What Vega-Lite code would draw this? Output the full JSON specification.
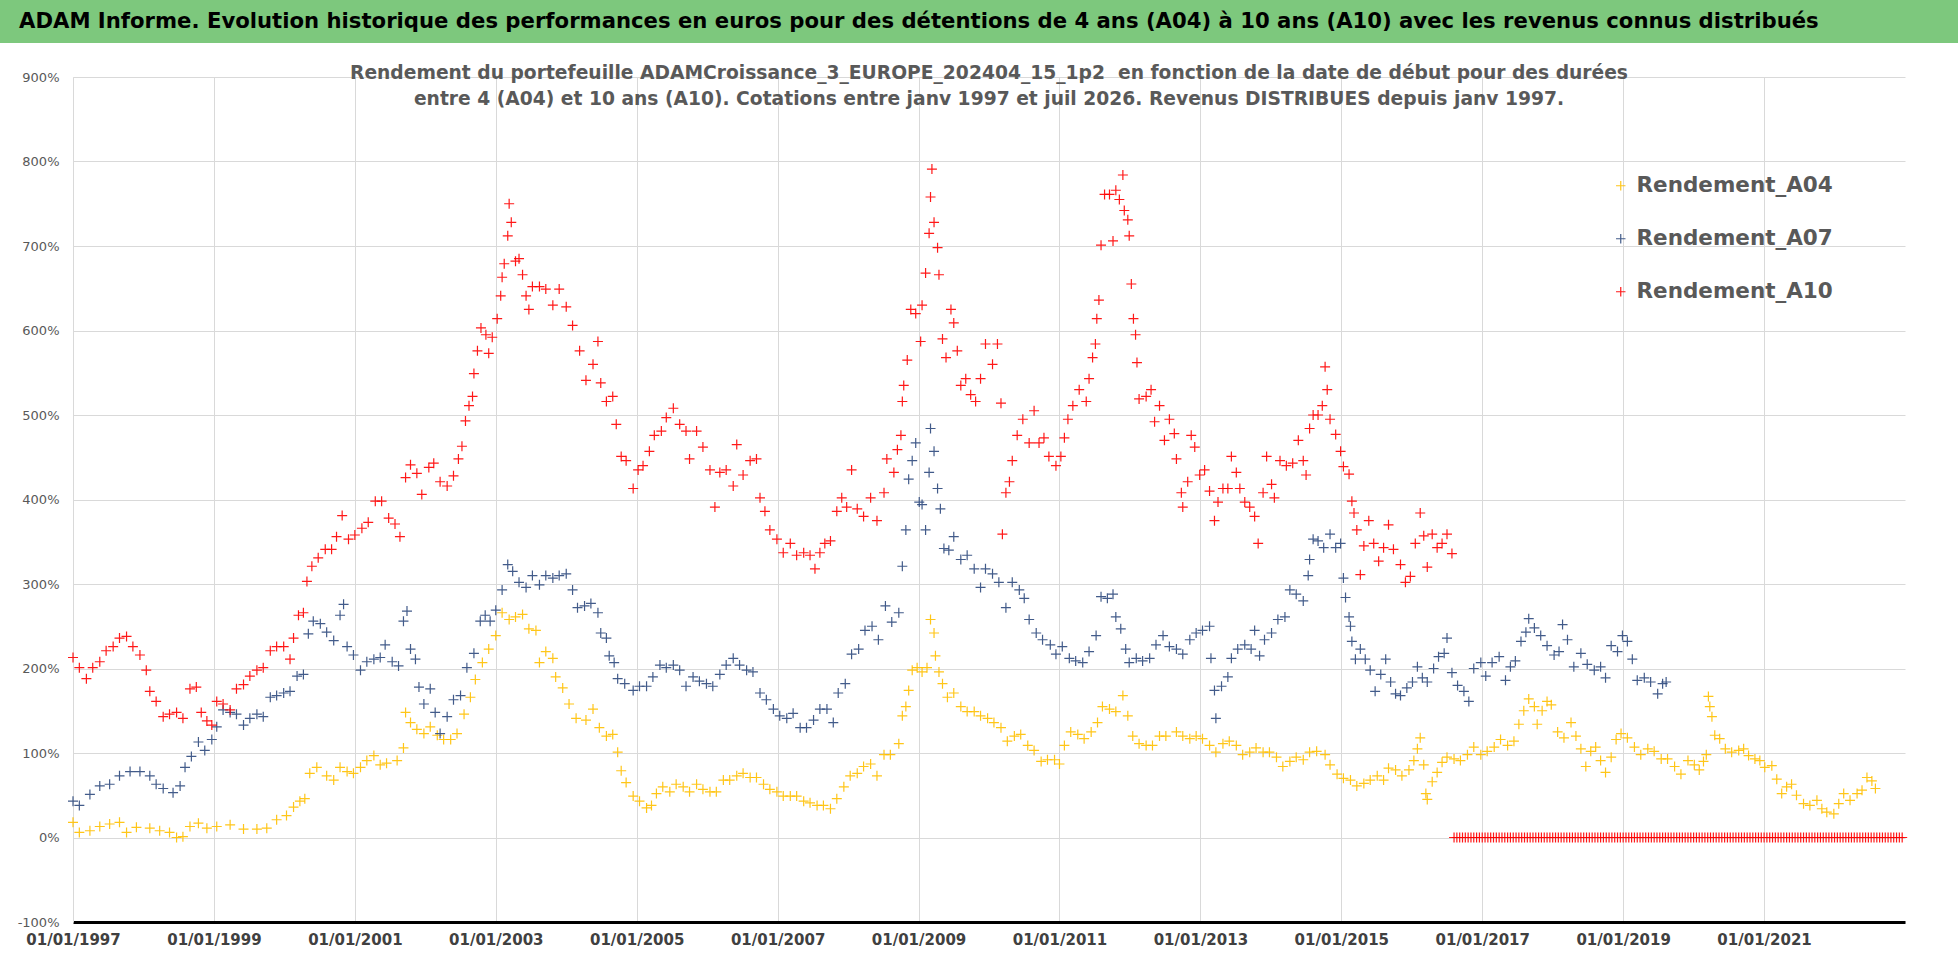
{
  "$schema": "https://vega.github.io/schema/vega-lite/v6.json",
  "background": "white",
  "padding": 0,
  "bounds": "flush",
  "spacing": 34,
  "resolve": {"scale": {"color": "independent"}, "legend": {"color": "independent"}},
  "config": {
    "font": "DejaVu Sans",
    "view": {"stroke": null}
  },
  "datasets": {
    "a04": [
      {"t":1997.00,"v":18},{"t":1997.09,"v":6},{"t":1997.24,"v":8},{"t":1997.38,"v":13},{"t":1997.52,"v":16},{"t":1997.66,"v":18},{"t":1997.76,"v":6},{"t":1997.90,"v":12},
      {"t":1998.09,"v":11},{"t":1998.23,"v":8},{"t":1998.37,"v":6},{"t":1998.47,"v":0},{"t":1998.56,"v":1},{"t":1998.66,"v":13},{"t":1998.78,"v":17},{"t":1998.90,"v":11},
      {"t":1999.04,"v":13},{"t":1999.23,"v":15},{"t":1999.42,"v":10},{"t":1999.61,"v":10},{"t":1999.75,"v":11},{"t":1999.89,"v":21},
      {"t":2000.03,"v":26},{"t":2000.13,"v":36},{"t":2000.22,"v":43},{"t":2000.29,"v":46},{"t":2000.36,"v":76},{"t":2000.46,"v":83},{"t":2000.60,"v":73},{"t":2000.70,"v":68},{"t":2000.79,"v":83},{"t":2000.89,"v":78},{"t":2000.98,"v":76},
      {"t":2001.08,"v":83},{"t":2001.17,"v":91},{"t":2001.27,"v":97},{"t":2001.36,"v":86},{"t":2001.45,"v":88},{"t":2001.60,"v":91},{"t":2001.69,"v":106},{"t":2001.72,"v":148},{"t":2001.79,"v":136},{"t":2001.88,"v":128},{"t":2001.98,"v":123},
      {"t":2002.07,"v":131},{"t":2002.17,"v":121},{"t":2002.26,"v":116},{"t":2002.36,"v":116},{"t":2002.45,"v":123},{"t":2002.55,"v":146},{"t":2002.64,"v":166},{"t":2002.71,"v":187},{"t":2002.81,"v":207},{"t":2002.90,"v":223},
      {"t":2003.00,"v":239},{"t":2003.09,"v":266},{"t":2003.19,"v":258},{"t":2003.28,"v":261},{"t":2003.38,"v":264},{"t":2003.47,"v":247},{"t":2003.57,"v":245},{"t":2003.62,"v":207},{"t":2003.71,"v":220},{"t":2003.81,"v":212},{"t":2003.85,"v":190},{"t":2003.95,"v":177},
      {"t":2004.04,"v":158},{"t":2004.14,"v":141},{"t":2004.28,"v":139},{"t":2004.38,"v":152},{"t":2004.47,"v":130},{"t":2004.57,"v":120},{"t":2004.66,"v":122},{"t":2004.73,"v":101},{"t":2004.78,"v":79},{"t":2004.85,"v":65},{"t":2004.95,"v":49},
      {"t":2005.04,"v":43},{"t":2005.14,"v":35},{"t":2005.21,"v":38},{"t":2005.28,"v":52},{"t":2005.37,"v":60},{"t":2005.47,"v":54},{"t":2005.56,"v":63},{"t":2005.66,"v":60},{"t":2005.75,"v":54},{"t":2005.85,"v":63},{"t":2005.94,"v":57},
      {"t":2006.04,"v":54},{"t":2006.13,"v":54},{"t":2006.23,"v":68},{"t":2006.32,"v":68},{"t":2006.42,"v":73},{"t":2006.51,"v":76},{"t":2006.61,"v":71},{"t":2006.70,"v":71},{"t":2006.80,"v":63},{"t":2006.89,"v":57},{"t":2006.99,"v":54},
      {"t":2007.08,"v":49},{"t":2007.18,"v":49},{"t":2007.27,"v":49},{"t":2007.37,"v":43},{"t":2007.46,"v":41},{"t":2007.56,"v":38},{"t":2007.65,"v":38},{"t":2007.75,"v":34},{"t":2007.84,"v":46},{"t":2007.94,"v":60},
      {"t":2008.03,"v":73},{"t":2008.13,"v":76},{"t":2008.22,"v":84},{"t":2008.32,"v":87},{"t":2008.41,"v":73},{"t":2008.51,"v":98},{"t":2008.60,"v":98},{"t":2008.72,"v":111},{"t":2008.77,"v":144},{"t":2008.82,"v":155},{"t":2008.86,"v":174},{"t":2008.91,"v":198},{"t":2008.98,"v":201},
      {"t":2009.05,"v":196},{"t":2009.12,"v":201},{"t":2009.17,"v":258},{"t":2009.22,"v":242},{"t":2009.24,"v":215},{"t":2009.29,"v":196},{"t":2009.34,"v":182},{"t":2009.41,"v":166},{"t":2009.50,"v":171},{"t":2009.60,"v":155},{"t":2009.69,"v":149},{"t":2009.79,"v":149},{"t":2009.88,"v":144},{"t":2009.98,"v":141},
      {"t":2010.07,"v":136},{"t":2010.17,"v":130},{"t":2010.26,"v":114},{"t":2010.36,"v":120},{"t":2010.45,"v":122},{"t":2010.55,"v":109},{"t":2010.64,"v":103},{"t":2010.74,"v":90},{"t":2010.83,"v":92},{"t":2010.93,"v":92},
      {"t":2011.00,"v":87},{"t":2011.07,"v":109},{"t":2011.16,"v":125},{"t":2011.26,"v":122},{"t":2011.35,"v":117},{"t":2011.45,"v":125},{"t":2011.54,"v":136},{"t":2011.61,"v":155},{"t":2011.71,"v":152},{"t":2011.80,"v":149},{"t":2011.90,"v":168},{"t":2011.97,"v":144},
      {"t":2012.04,"v":120},{"t":2012.13,"v":111},{"t":2012.23,"v":109},{"t":2012.32,"v":109},{"t":2012.42,"v":120},{"t":2012.51,"v":120},{"t":2012.66,"v":125},{"t":2012.75,"v":120},{"t":2012.85,"v":117},{"t":2012.94,"v":120},
      {"t":2013.03,"v":117},{"t":2013.13,"v":109},{"t":2013.22,"v":101},{"t":2013.32,"v":111},{"t":2013.41,"v":114},{"t":2013.51,"v":109},{"t":2013.60,"v":98},{"t":2013.70,"v":101},{"t":2013.79,"v":106},{"t":2013.89,"v":101},{"t":2013.98,"v":101},
      {"t":2014.08,"v":95},{"t":2014.17,"v":84},{"t":2014.27,"v":90},{"t":2014.36,"v":95},{"t":2014.46,"v":92},{"t":2014.55,"v":101},{"t":2014.65,"v":102},{"t":2014.77,"v":98},{"t":2014.84,"v":86},{"t":2014.94,"v":75},
      {"t":2015.03,"v":70},{"t":2015.13,"v":68},{"t":2015.22,"v":61},{"t":2015.32,"v":64},{"t":2015.41,"v":68},{"t":2015.51,"v":73},{"t":2015.60,"v":68},{"t":2015.67,"v":82},{"t":2015.77,"v":80},{"t":2015.86,"v":73},{"t":2015.96,"v":80},
      {"t":2016.03,"v":91},{"t":2016.08,"v":105},{"t":2016.12,"v":118},{"t":2016.17,"v":86},{"t":2016.20,"v":52},{"t":2016.22,"v":45},{"t":2016.29,"v":66},{"t":2016.36,"v":77},{"t":2016.43,"v":89},{"t":2016.50,"v":95},{"t":2016.60,"v":93},{"t":2016.69,"v":91},{"t":2016.79,"v":98},{"t":2016.88,"v":107},{"t":2016.98,"v":98},
      {"t":2017.07,"v":102},{"t":2017.17,"v":107},{"t":2017.26,"v":116},{"t":2017.36,"v":109},{"t":2017.45,"v":114},{"t":2017.52,"v":134},{"t":2017.59,"v":150},{"t":2017.66,"v":164},{"t":2017.74,"v":155},{"t":2017.78,"v":134},{"t":2017.85,"v":150},{"t":2017.92,"v":161},{"t":2017.98,"v":157},
      {"t":2018.07,"v":125},{"t":2018.16,"v":118},{"t":2018.26,"v":136},{"t":2018.33,"v":120},{"t":2018.40,"v":105},{"t":2018.47,"v":84},{"t":2018.54,"v":102},{"t":2018.61,"v":107},{"t":2018.68,"v":91},{"t":2018.75,"v":77},{"t":2018.83,"v":95},{"t":2018.90,"v":116},{"t":2018.97,"v":123},
      {"t":2019.06,"v":118},{"t":2019.16,"v":107},{"t":2019.25,"v":98},{"t":2019.35,"v":105},{"t":2019.44,"v":102},{"t":2019.54,"v":93},{"t":2019.63,"v":93},{"t":2019.73,"v":84},{"t":2019.82,"v":75},{"t":2019.92,"v":91},
      {"t":2020.01,"v":86},{"t":2020.08,"v":80},{"t":2020.14,"v":90},{"t":2020.18,"v":98},{"t":2020.21,"v":167},{"t":2020.23,"v":155},{"t":2020.26,"v":143},{"t":2020.30,"v":121},{"t":2020.37,"v":117},{"t":2020.45,"v":105},{"t":2020.54,"v":101},{"t":2020.64,"v":103},{"t":2020.71,"v":105},{"t":2020.78,"v":97},{"t":2020.87,"v":93},{"t":2020.94,"v":91},
      {"t":2021.01,"v":83},{"t":2021.11,"v":85},{"t":2021.18,"v":69},{"t":2021.25,"v":52},{"t":2021.32,"v":60},{"t":2021.39,"v":63},{"t":2021.46,"v":50},{"t":2021.56,"v":40},{"t":2021.65,"v":38},{"t":2021.75,"v":44},{"t":2021.82,"v":34},{"t":2021.89,"v":30},{"t":2021.99,"v":28},
      {"t":2022.06,"v":40},{"t":2022.13,"v":52},{"t":2022.22,"v":44},{"t":2022.32,"v":52},{"t":2022.39,"v":56},{"t":2022.46,"v":71},{"t":2022.53,"v":67},{"t":2022.58,"v":58}
    ],
    "a07": [
      {"t":1997.00,"v":43},{"t":1997.09,"v":38},{"t":1997.24,"v":51},{"t":1997.38,"v":61},{"t":1997.52,"v":63},{"t":1997.66,"v":73},{"t":1997.81,"v":78},{"t":1997.95,"v":78},
      {"t":1998.09,"v":73},{"t":1998.18,"v":63},{"t":1998.28,"v":58},{"t":1998.42,"v":53},{"t":1998.52,"v":61},{"t":1998.59,"v":83},{"t":1998.68,"v":96},{"t":1998.78,"v":113},{"t":1998.87,"v":103},{"t":1998.97,"v":116},
      {"t":1999.04,"v":131},{"t":1999.13,"v":151},{"t":1999.23,"v":148},{"t":1999.32,"v":146},{"t":1999.42,"v":133},{"t":1999.51,"v":141},{"t":1999.61,"v":146},{"t":1999.70,"v":143},{"t":1999.80,"v":166},{"t":1999.89,"v":168},{"t":1999.99,"v":171},
      {"t":2000.08,"v":173},{"t":2000.18,"v":191},{"t":2000.27,"v":193},{"t":2000.34,"v":241},{"t":2000.41,"v":256},{"t":2000.51,"v":253},{"t":2000.60,"v":243},{"t":2000.70,"v":233},{"t":2000.79,"v":263},{"t":2000.84,"v":276},{"t":2000.89,"v":226},{"t":2000.98,"v":216},
      {"t":2001.08,"v":198},{"t":2001.17,"v":208},{"t":2001.27,"v":211},{"t":2001.36,"v":213},{"t":2001.43,"v":228},{"t":2001.53,"v":208},{"t":2001.62,"v":203},{"t":2001.69,"v":256},{"t":2001.74,"v":268},{"t":2001.79,"v":223},{"t":2001.86,"v":211},{"t":2001.91,"v":178},{"t":2001.98,"v":158},
      {"t":2002.07,"v":176},{"t":2002.14,"v":148},{"t":2002.21,"v":123},{"t":2002.31,"v":143},{"t":2002.40,"v":163},{"t":2002.50,"v":168},{"t":2002.59,"v":201},{"t":2002.69,"v":218},{"t":2002.78,"v":256},{"t":2002.85,"v":263},{"t":2002.92,"v":256},
      {"t":2003.00,"v":269},{"t":2003.09,"v":293},{"t":2003.17,"v":323},{"t":2003.24,"v":315},{"t":2003.33,"v":302},{"t":2003.43,"v":296},{"t":2003.52,"v":310},{"t":2003.62,"v":299},{"t":2003.71,"v":310},{"t":2003.81,"v":307},{"t":2003.90,"v":310},
      {"t":2004.00,"v":312},{"t":2004.09,"v":293},{"t":2004.16,"v":272},{"t":2004.26,"v":274},{"t":2004.35,"v":277},{"t":2004.45,"v":266},{"t":2004.49,"v":242},{"t":2004.57,"v":236},{"t":2004.61,"v":215},{"t":2004.68,"v":207},{"t":2004.73,"v":188},{"t":2004.83,"v":182},{"t":2004.95,"v":174},
      {"t":2005.04,"v":179},{"t":2005.14,"v":179},{"t":2005.23,"v":190},{"t":2005.33,"v":204},{"t":2005.42,"v":201},{"t":2005.52,"v":204},{"t":2005.61,"v":198},{"t":2005.70,"v":179},{"t":2005.80,"v":190},{"t":2005.89,"v":185},{"t":2005.99,"v":182},
      {"t":2006.08,"v":179},{"t":2006.18,"v":193},{"t":2006.27,"v":204},{"t":2006.37,"v":212},{"t":2006.46,"v":204},{"t":2006.56,"v":198},{"t":2006.65,"v":196},{"t":2006.75,"v":171},{"t":2006.84,"v":163},{"t":2006.94,"v":152},
      {"t":2007.03,"v":144},{"t":2007.13,"v":141},{"t":2007.22,"v":147},{"t":2007.32,"v":130},{"t":2007.41,"v":130},{"t":2007.51,"v":139},{"t":2007.60,"v":152},{"t":2007.70,"v":152},{"t":2007.79,"v":136},{"t":2007.86,"v":171},{"t":2007.96,"v":182},
      {"t":2008.05,"v":217},{"t":2008.15,"v":223},{"t":2008.24,"v":245},{"t":2008.34,"v":250},{"t":2008.43,"v":234},{"t":2008.53,"v":274},{"t":2008.62,"v":255},{"t":2008.72,"v":266},{"t":2008.77,"v":321},{"t":2008.82,"v":364},{"t":2008.86,"v":424},{"t":2008.91,"v":446},{"t":2008.96,"v":467},
      {"t":2009.01,"v":397},{"t":2009.05,"v":394},{"t":2009.10,"v":364},{"t":2009.15,"v":432},{"t":2009.17,"v":484},{"t":2009.22,"v":457},{"t":2009.27,"v":413},{"t":2009.31,"v":389},{"t":2009.36,"v":342},{"t":2009.43,"v":340},{"t":2009.50,"v":356},{"t":2009.60,"v":329},{"t":2009.69,"v":334},{"t":2009.79,"v":318},{"t":2009.88,"v":296},{"t":2009.95,"v":318},
      {"t":2010.05,"v":312},{"t":2010.14,"v":302},{"t":2010.24,"v":272},{"t":2010.33,"v":302},{"t":2010.43,"v":293},{"t":2010.50,"v":283},{"t":2010.57,"v":258},{"t":2010.67,"v":242},{"t":2010.76,"v":234},{"t":2010.87,"v":228},{"t":2010.95,"v":217},
      {"t":2011.04,"v":226},{"t":2011.14,"v":212},{"t":2011.23,"v":209},{"t":2011.33,"v":207},{"t":2011.42,"v":220},{"t":2011.52,"v":239},{"t":2011.59,"v":285},{"t":2011.68,"v":283},{"t":2011.76,"v":288},{"t":2011.80,"v":261},{"t":2011.87,"v":247},{"t":2011.94,"v":223},{"t":2011.99,"v":207},
      {"t":2012.09,"v":212},{"t":2012.18,"v":209},{"t":2012.28,"v":212},{"t":2012.37,"v":228},{"t":2012.47,"v":239},{"t":2012.56,"v":226},{"t":2012.66,"v":223},{"t":2012.75,"v":217},{"t":2012.85,"v":234},{"t":2012.94,"v":242},
      {"t":2013.03,"v":245},{"t":2013.13,"v":250},{"t":2013.15,"v":212},{"t":2013.20,"v":174},{"t":2013.22,"v":141},{"t":2013.30,"v":179},{"t":2013.39,"v":190},{"t":2013.44,"v":212},{"t":2013.53,"v":223},{"t":2013.63,"v":228},{"t":2013.72,"v":223},{"t":2013.77,"v":245},{"t":2013.84,"v":215},{"t":2013.91,"v":234},
      {"t":2014.01,"v":242},{"t":2014.10,"v":258},{"t":2014.20,"v":261},{"t":2014.27,"v":293},{"t":2014.36,"v":288},{"t":2014.46,"v":280},{"t":2014.53,"v":310},{"t":2014.55,"v":329},{"t":2014.60,"v":353},{"t":2014.67,"v":351},{"t":2014.75,"v":343},{"t":2014.84,"v":359},{"t":2014.92,"v":343},{"t":2014.99,"v":348},
      {"t":2015.03,"v":307},{"t":2015.06,"v":284},{"t":2015.11,"v":261},{"t":2015.13,"v":250},{"t":2015.15,"v":232},{"t":2015.20,"v":211},{"t":2015.27,"v":223},{"t":2015.34,"v":211},{"t":2015.41,"v":198},{"t":2015.48,"v":173},{"t":2015.56,"v":193},{"t":2015.63,"v":211},{"t":2015.70,"v":184},{"t":2015.77,"v":170},{"t":2015.84,"v":168},{"t":2015.93,"v":177},
      {"t":2016.01,"v":184},{"t":2016.08,"v":202},{"t":2016.15,"v":189},{"t":2016.22,"v":184},{"t":2016.31,"v":200},{"t":2016.38,"v":214},{"t":2016.46,"v":218},{"t":2016.50,"v":236},{"t":2016.57,"v":195},{"t":2016.65,"v":180},{"t":2016.74,"v":173},{"t":2016.81,"v":161},{"t":2016.88,"v":200},{"t":2016.98,"v":207},
      {"t":2017.05,"v":191},{"t":2017.14,"v":207},{"t":2017.24,"v":214},{"t":2017.33,"v":186},{"t":2017.40,"v":202},{"t":2017.47,"v":209},{"t":2017.55,"v":232},{"t":2017.62,"v":243},{"t":2017.66,"v":259},{"t":2017.74,"v":248},{"t":2017.83,"v":239},{"t":2017.92,"v":227},
      {"t":2018.02,"v":216},{"t":2018.09,"v":220},{"t":2018.14,"v":252},{"t":2018.21,"v":234},{"t":2018.30,"v":202},{"t":2018.40,"v":218},{"t":2018.49,"v":205},{"t":2018.59,"v":198},{"t":2018.68,"v":202},{"t":2018.75,"v":189},{"t":2018.83,"v":227},{"t":2018.92,"v":220},{"t":2018.99,"v":239},
      {"t":2019.06,"v":232},{"t":2019.13,"v":211},{"t":2019.20,"v":186},{"t":2019.30,"v":189},{"t":2019.39,"v":184},{"t":2019.49,"v":170},{"t":2019.56,"v":182},{"t":2019.61,"v":184}
    ],
    "a10": [
      {"t":1997.00,"v":213},{"t":1997.09,"v":201},{"t":1997.19,"v":188},{"t":1997.28,"v":201},{"t":1997.38,"v":208},{"t":1997.47,"v":221},{"t":1997.57,"v":226},{"t":1997.66,"v":236},{"t":1997.76,"v":238},{"t":1997.85,"v":226},{"t":1997.95,"v":216},
      {"t":1998.04,"v":198},{"t":1998.09,"v":173},{"t":1998.18,"v":161},{"t":1998.28,"v":143},{"t":1998.37,"v":146},{"t":1998.47,"v":148},{"t":1998.56,"v":141},{"t":1998.66,"v":176},{"t":1998.75,"v":178},{"t":1998.82,"v":148},{"t":1998.90,"v":138},{"t":1998.97,"v":133},
      {"t":1999.04,"v":161},{"t":1999.13,"v":158},{"t":1999.23,"v":151},{"t":1999.32,"v":176},{"t":1999.42,"v":181},{"t":1999.51,"v":191},{"t":1999.61,"v":198},{"t":1999.70,"v":201},{"t":1999.80,"v":221},{"t":1999.89,"v":226},{"t":1999.99,"v":226},
      {"t":2000.08,"v":211},{"t":2000.13,"v":236},{"t":2000.20,"v":263},{"t":2000.27,"v":266},{"t":2000.32,"v":303},{"t":2000.39,"v":321},{"t":2000.48,"v":331},{"t":2000.58,"v":341},{"t":2000.67,"v":341},{"t":2000.74,"v":356},{"t":2000.82,"v":381},{"t":2000.91,"v":353},
      {"t":2001.00,"v":358},{"t":2001.10,"v":366},{"t":2001.19,"v":373},{"t":2001.29,"v":398},{"t":2001.38,"v":398},{"t":2001.48,"v":378},{"t":2001.57,"v":371},{"t":2001.64,"v":356},{"t":2001.72,"v":426},{"t":2001.79,"v":441},{"t":2001.88,"v":431},{"t":2001.95,"v":406},
      {"t":2002.05,"v":438},{"t":2002.12,"v":443},{"t":2002.21,"v":421},{"t":2002.31,"v":416},{"t":2002.40,"v":428},{"t":2002.47,"v":448},{"t":2002.52,"v":463},{"t":2002.57,"v":493},{"t":2002.62,"v":511},{"t":2002.67,"v":522},{"t":2002.69,"v":549},{"t":2002.74,"v":576},{"t":2002.79,"v":603},{"t":2002.86,"v":595},{"t":2002.90,"v":573},{"t":2002.95,"v":592},
      {"t":2003.02,"v":614},{"t":2003.07,"v":641},{"t":2003.09,"v":663},{"t":2003.12,"v":679},{"t":2003.17,"v":712},{"t":2003.19,"v":750},{"t":2003.22,"v":728},{"t":2003.28,"v":682},{"t":2003.33,"v":685},{"t":2003.38,"v":666},{"t":2003.43,"v":641},{"t":2003.47,"v":625},{"t":2003.52,"v":652},{"t":2003.62,"v":652},{"t":2003.71,"v":649},{"t":2003.81,"v":630},{"t":2003.90,"v":649},
      {"t":2004.00,"v":628},{"t":2004.09,"v":606},{"t":2004.19,"v":576},{"t":2004.28,"v":541},{"t":2004.38,"v":560},{"t":2004.45,"v":587},{"t":2004.49,"v":538},{"t":2004.57,"v":516},{"t":2004.66,"v":522},{"t":2004.71,"v":489},{"t":2004.78,"v":451},{"t":2004.85,"v":446},{"t":2004.95,"v":413},
      {"t":2005.02,"v":435},{"t":2005.09,"v":440},{"t":2005.18,"v":457},{"t":2005.25,"v":476},{"t":2005.35,"v":481},{"t":2005.42,"v":497},{"t":2005.52,"v":508},{"t":2005.61,"v":489},{"t":2005.70,"v":481},{"t":2005.75,"v":448},{"t":2005.85,"v":481},{"t":2005.94,"v":462},
      {"t":2006.04,"v":435},{"t":2006.11,"v":391},{"t":2006.18,"v":432},{"t":2006.27,"v":435},{"t":2006.37,"v":416},{"t":2006.42,"v":465},{"t":2006.51,"v":429},{"t":2006.61,"v":446},{"t":2006.70,"v":448},{"t":2006.75,"v":402},{"t":2006.82,"v":386},{"t":2006.89,"v":364},{"t":2006.99,"v":353},
      {"t":2007.08,"v":337},{"t":2007.18,"v":348},{"t":2007.27,"v":334},{"t":2007.37,"v":337},{"t":2007.46,"v":334},{"t":2007.53,"v":318},{"t":2007.60,"v":337},{"t":2007.67,"v":348},{"t":2007.75,"v":351},{"t":2007.84,"v":386},{"t":2007.91,"v":402},{"t":2007.98,"v":391},
      {"t":2008.05,"v":435},{"t":2008.13,"v":389},{"t":2008.22,"v":380},{"t":2008.32,"v":402},{"t":2008.41,"v":375},{"t":2008.51,"v":408},{"t":2008.55,"v":448},{"t":2008.65,"v":432},{"t":2008.70,"v":459},{"t":2008.75,"v":476},{"t":2008.77,"v":516},{"t":2008.79,"v":535},{"t":2008.84,"v":565},{"t":2008.89,"v":625},{"t":2008.96,"v":620},
      {"t":2009.03,"v":587},{"t":2009.05,"v":630},{"t":2009.10,"v":668},{"t":2009.15,"v":715},{"t":2009.17,"v":758},{"t":2009.19,"v":791},{"t":2009.22,"v":728},{"t":2009.27,"v":698},{"t":2009.29,"v":666},{"t":2009.34,"v":590},{"t":2009.39,"v":568},{"t":2009.46,"v":625},{"t":2009.50,"v":609},{"t":2009.55,"v":576},{"t":2009.60,"v":535},{"t":2009.67,"v":543},{"t":2009.74,"v":524},{"t":2009.81,"v":516},{"t":2009.88,"v":543},{"t":2009.95,"v":584},
      {"t":2010.05,"v":560},{"t":2010.12,"v":584},{"t":2010.17,"v":514},{"t":2010.19,"v":359},{"t":2010.24,"v":408},{"t":2010.29,"v":421},{"t":2010.33,"v":446},{"t":2010.40,"v":476},{"t":2010.48,"v":495},{"t":2010.57,"v":467},{"t":2010.64,"v":505},{"t":2010.71,"v":467},{"t":2010.78,"v":473},{"t":2010.85,"v":451},{"t":2010.95,"v":440},
      {"t":2011.02,"v":451},{"t":2011.07,"v":473},{"t":2011.12,"v":495},{"t":2011.19,"v":511},{"t":2011.28,"v":530},{"t":2011.38,"v":516},{"t":2011.42,"v":543},{"t":2011.47,"v":568},{"t":2011.51,"v":584},{"t":2011.53,"v":614},{"t":2011.56,"v":636},{"t":2011.59,"v":701},{"t":2011.64,"v":761},{"t":2011.71,"v":761},{"t":2011.76,"v":706},{"t":2011.80,"v":766},{"t":2011.85,"v":755},{"t":2011.90,"v":784},{"t":2011.92,"v":742},{"t":2011.97,"v":731},{"t":2011.99,"v":712},
      {"t":2012.02,"v":655},{"t":2012.05,"v":614},{"t":2012.08,"v":595},{"t":2012.10,"v":562},{"t":2012.13,"v":519},{"t":2012.23,"v":522},{"t":2012.30,"v":530},{"t":2012.35,"v":492},{"t":2012.42,"v":511},{"t":2012.49,"v":470},{"t":2012.56,"v":495},{"t":2012.63,"v":478},{"t":2012.66,"v":448},{"t":2012.73,"v":408},{"t":2012.75,"v":391},{"t":2012.82,"v":421},{"t":2012.87,"v":476},{"t":2012.92,"v":462},{"t":2012.99,"v":429},
      {"t":2013.06,"v":435},{"t":2013.13,"v":410},{"t":2013.20,"v":375},{"t":2013.25,"v":397},{"t":2013.32,"v":413},{"t":2013.39,"v":413},{"t":2013.44,"v":451},{"t":2013.51,"v":432},{"t":2013.56,"v":413},{"t":2013.63,"v":397},{"t":2013.70,"v":391},{"t":2013.77,"v":380},{"t":2013.82,"v":348},{"t":2013.89,"v":408},{"t":2013.94,"v":451},
      {"t":2014.01,"v":418},{"t":2014.05,"v":402},{"t":2014.13,"v":446},{"t":2014.22,"v":440},{"t":2014.31,"v":443},{"t":2014.39,"v":470},{"t":2014.46,"v":446},{"t":2014.50,"v":429},{"t":2014.55,"v":484},{"t":2014.60,"v":500},{"t":2014.67,"v":500},{"t":2014.73,"v":511},{"t":2014.77,"v":557},{"t":2014.80,"v":530},{"t":2014.84,"v":495},{"t":2014.92,"v":477},{"t":2014.99,"v":457},
      {"t":2015.03,"v":439},{"t":2015.11,"v":430},{"t":2015.15,"v":398},{"t":2015.18,"v":384},{"t":2015.22,"v":364},{"t":2015.27,"v":311},{"t":2015.32,"v":345},{"t":2015.39,"v":375},{"t":2015.46,"v":348},{"t":2015.53,"v":327},{"t":2015.60,"v":343},{"t":2015.67,"v":370},{"t":2015.74,"v":341},{"t":2015.84,"v":323},{"t":2015.91,"v":302},{"t":2015.98,"v":309},
      {"t":2016.05,"v":348},{"t":2016.12,"v":384},{"t":2016.17,"v":357},{"t":2016.22,"v":320},{"t":2016.29,"v":359},{"t":2016.36,"v":343},{"t":2016.43,"v":348},{"t":2016.50,"v":359},{"t":2016.57,"v":336},
      {"t":2016.60,"v":0},{"t":2016.64,"v":0},{"t":2016.68,"v":0},{"t":2016.72,"v":0},{"t":2016.76,"v":0},{"t":2016.80,"v":0},{"t":2016.84,"v":0},{"t":2016.88,"v":0},{"t":2016.92,"v":0},{"t":2016.96,"v":0},
      {"t":2017.00,"v":0},{"t":2017.04,"v":0},{"t":2017.08,"v":0},{"t":2017.12,"v":0},{"t":2017.16,"v":0},{"t":2017.20,"v":0},{"t":2017.24,"v":0},{"t":2017.28,"v":0},{"t":2017.32,"v":0},{"t":2017.36,"v":0},{"t":2017.40,"v":0},{"t":2017.44,"v":0},{"t":2017.48,"v":0},{"t":2017.52,"v":0},{"t":2017.56,"v":0},{"t":2017.60,"v":0},{"t":2017.64,"v":0},{"t":2017.68,"v":0},{"t":2017.72,"v":0},{"t":2017.76,"v":0},{"t":2017.80,"v":0},{"t":2017.84,"v":0},{"t":2017.88,"v":0},{"t":2017.92,"v":0},{"t":2017.96,"v":0},
      {"t":2018.00,"v":0},{"t":2018.04,"v":0},{"t":2018.08,"v":0},{"t":2018.12,"v":0},{"t":2018.16,"v":0},{"t":2018.20,"v":0},{"t":2018.24,"v":0},{"t":2018.28,"v":0},{"t":2018.32,"v":0},{"t":2018.36,"v":0},{"t":2018.40,"v":0},{"t":2018.44,"v":0},{"t":2018.48,"v":0},{"t":2018.52,"v":0},{"t":2018.56,"v":0},{"t":2018.60,"v":0},{"t":2018.64,"v":0},{"t":2018.68,"v":0},{"t":2018.72,"v":0},{"t":2018.76,"v":0},{"t":2018.80,"v":0},{"t":2018.84,"v":0},{"t":2018.88,"v":0},{"t":2018.92,"v":0},{"t":2018.96,"v":0},
      {"t":2019.00,"v":0},{"t":2019.04,"v":0},{"t":2019.08,"v":0},{"t":2019.12,"v":0},{"t":2019.16,"v":0},{"t":2019.20,"v":0},{"t":2019.24,"v":0},{"t":2019.28,"v":0},{"t":2019.32,"v":0},{"t":2019.36,"v":0},{"t":2019.40,"v":0},{"t":2019.44,"v":0},{"t":2019.48,"v":0},{"t":2019.52,"v":0},{"t":2019.56,"v":0},{"t":2019.60,"v":0},{"t":2019.64,"v":0},{"t":2019.68,"v":0},{"t":2019.72,"v":0},{"t":2019.76,"v":0},{"t":2019.80,"v":0},{"t":2019.84,"v":0},{"t":2019.88,"v":0},{"t":2019.92,"v":0},{"t":2019.96,"v":0},
      {"t":2020.00,"v":0},{"t":2020.04,"v":0},{"t":2020.08,"v":0},{"t":2020.12,"v":0},{"t":2020.16,"v":0},{"t":2020.20,"v":0},{"t":2020.24,"v":0},{"t":2020.28,"v":0},{"t":2020.32,"v":0},{"t":2020.36,"v":0},{"t":2020.40,"v":0},{"t":2020.44,"v":0},{"t":2020.48,"v":0},{"t":2020.52,"v":0},{"t":2020.56,"v":0},{"t":2020.60,"v":0},{"t":2020.64,"v":0},{"t":2020.68,"v":0},{"t":2020.72,"v":0},{"t":2020.76,"v":0},{"t":2020.80,"v":0},{"t":2020.84,"v":0},{"t":2020.88,"v":0},{"t":2020.92,"v":0},{"t":2020.96,"v":0},
      {"t":2021.00,"v":0},{"t":2021.04,"v":0},{"t":2021.08,"v":0},{"t":2021.12,"v":0},{"t":2021.16,"v":0},{"t":2021.20,"v":0},{"t":2021.24,"v":0},{"t":2021.28,"v":0},{"t":2021.32,"v":0},{"t":2021.36,"v":0},{"t":2021.40,"v":0},{"t":2021.44,"v":0},{"t":2021.48,"v":0},{"t":2021.52,"v":0},{"t":2021.56,"v":0},{"t":2021.60,"v":0},{"t":2021.64,"v":0},{"t":2021.68,"v":0},{"t":2021.72,"v":0},{"t":2021.76,"v":0},{"t":2021.80,"v":0},{"t":2021.84,"v":0},{"t":2021.88,"v":0},{"t":2021.92,"v":0},{"t":2021.96,"v":0},
      {"t":2022.00,"v":0},{"t":2022.04,"v":0},{"t":2022.08,"v":0},{"t":2022.12,"v":0},{"t":2022.16,"v":0},{"t":2022.20,"v":0},{"t":2022.24,"v":0},{"t":2022.28,"v":0},{"t":2022.32,"v":0},{"t":2022.36,"v":0},{"t":2022.40,"v":0},{"t":2022.44,"v":0},{"t":2022.48,"v":0},{"t":2022.52,"v":0},{"t":2022.56,"v":0},{"t":2022.60,"v":0},{"t":2022.64,"v":0},{"t":2022.68,"v":0},{"t":2022.72,"v":0},{"t":2022.76,"v":0},{"t":2022.80,"v":0},{"t":2022.84,"v":0},{"t":2022.88,"v":0},{"t":2022.92,"v":0},{"t":2022.96,"v":0}
    ],
    "bandeau": [{"titre": "ADAM Informe. Evolution historique des performances en euros pour des détentions de 4 ans (A04) à 10 ans (A10) avec les revenus connus distribués"}],
    "ligne1": [{"texte": "Rendement du portefeuille ADAMCroissance_3_EUROPE_202404_15_1p2\u00a0 en fonction de la date de début pour des durées"}],
    "ligne2": [{"texte": "entre 4 (A04) et 10 ans (A10). Cotations entre janv 1997 et juil 2026. Revenus DISTRIBUES depuis janv 1997."}],
    "marge": [{"id": 0}]
  },
  "vconcat": [
    {
      "width": 1958,
      "height": 43,
      "data": {"name": "bandeau"},
      "layer": [
        {"mark": {"type": "rect", "color": "#7DC87D"}},
        {
          "mark": {"type": "text", "align": "left", "baseline": "middle", "dx": -960, "font": "DejaVu Sans", "fontSize": 21.2, "fontWeight": "bold", "color": "#000000"},
          "encoding": {"text": {"field": "titre", "type": "nominal"}}
        }
      ]
    },
    {
      "bounds": "flush",
      "spacing": 0,
      "resolve": {"scale": {"color": "independent"}, "legend": {"color": "independent"}},
      "hconcat": [
        {
          "width": 73,
          "height": 845,
          "data": {"name": "marge"},
          "mark": {"type": "rect", "opacity": 0}
        },
        {
          "width": 1832,
          "height": 845,
          "layer": [
            {
              "data": {"name": "a04"},
              "mark": {"type": "point", "shape": "M-1,0L1,0M0,-1L0,1", "filled": false, "size": 100, "strokeWidth": 1.2, "opacity": 0.9},
              "encoding": {
                "x": {
                  "field": "t",
                  "type": "quantitative",
                  "scale": {"domain": [1997, 2023], "nice": false, "zero": false},
                  "axis": {
                    "title": null,
                    "values": [1997, 1999, 2001, 2003, 2005, 2007, 2009, 2011, 2013, 2015, 2017, 2019, 2021],
                    "labelExpr": "'01/01/' + datum.value",
                    "grid": true,
                    "gridColor": "#D9D9D9",
                    "gridWidth": 1,
                    "domainColor": "#000000",
                    "domainWidth": 3,
                    "ticks": false,
                    "labelFont": "DejaVu Sans",
                    "labelFontSize": 15,
                    "labelFontWeight": "bold",
                    "labelColor": "#404040",
                    "labelPadding": 10,
                    "labelFlush": false,
                    "labelOverlap": false
                  }
                },
                "y": {
                  "field": "v",
                  "type": "quantitative",
                  "scale": {"domain": [-100, 900], "nice": false, "zero": false},
                  "axis": {
                    "title": null,
                    "values": [-100, 0, 100, 200, 300, 400, 500, 600, 700, 800, 900],
                    "labelExpr": "datum.value + '%'",
                    "grid": true,
                    "gridColor": "#D9D9D9",
                    "gridWidth": 1,
                    "domainColor": "#D9D9D9",
                    "ticks": false,
                    "labelFont": "DejaVu Sans",
                    "labelFontSize": 13,
                    "labelColor": "#595959",
                    "labelPadding": 14
                  }
                },
                "color": {
                  "datum": "Rendement_A04",
                  "scale": {"domain": ["Rendement_A04", "Rendement_A07", "Rendement_A10"], "range": ["#FFC000", "#2E4A7E", "#FF0000"]},
                  "legend": {
                    "title": null,
                    "orient": "none",
                    "legendX": 1537,
                    "legendY": 98,
                    "direction": "vertical",
                    "padding": 0,
                    "symbolType": "M-1,0L1,0M0,-1L0,1",
                    "symbolSize": 90,
                    "symbolStrokeWidth": 1.2,
                    "labelFont": "DejaVu Sans",
                    "labelFontSize": 21.5,
                    "labelFontWeight": "bold",
                    "labelColor": "#595959",
                    "labelLimit": 400,
                    "labelOffset": 5,
                    "rowPadding": 30
                  }
                }
              }
            },
            {
              "data": {"name": "a07"},
              "mark": {"type": "point", "shape": "M-1,0L1,0M0,-1L0,1", "filled": false, "size": 100, "strokeWidth": 1.2, "opacity": 0.9},
              "encoding": {
                "x": {"field": "t", "type": "quantitative"},
                "y": {"field": "v", "type": "quantitative"},
                "color": {"datum": "Rendement_A07"}
              }
            },
            {
              "data": {"name": "a10"},
              "mark": {"type": "point", "shape": "M-1,0L1,0M0,-1L0,1", "filled": false, "size": 100, "strokeWidth": 1.2, "opacity": 0.9},
              "encoding": {
                "x": {"field": "t", "type": "quantitative"},
                "y": {"field": "v", "type": "quantitative"},
                "color": {"datum": "Rendement_A10"}
              }
            },
            {
              "data": {"name": "ligne1"},
              "mark": {"type": "text", "align": "center", "baseline": "middle", "font": "DejaVu Sans", "fontSize": 18.7, "fontWeight": "bold", "color": "#595959"},
              "encoding": {
                "y": {"datum": 905, "type": "quantitative"},
                "text": {"field": "texte", "type": "nominal"}
              }
            },
            {
              "data": {"name": "ligne2"},
              "mark": {"type": "text", "align": "center", "baseline": "middle", "font": "DejaVu Sans", "fontSize": 18.7, "fontWeight": "bold", "color": "#595959"},
              "encoding": {
                "y": {"datum": 874.5, "type": "quantitative"},
                "text": {"field": "texte", "type": "nominal"}
              }
            }
          ]
        }
      ]
    }
  ]
}
